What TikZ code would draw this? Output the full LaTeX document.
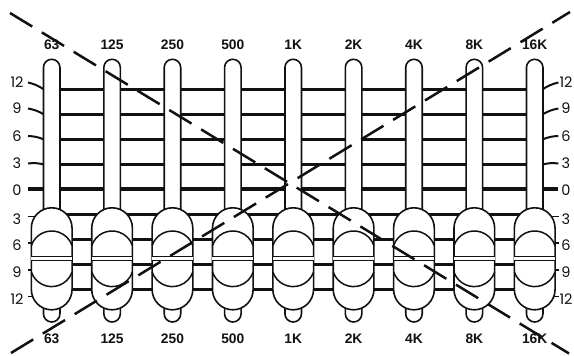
\documentclass[tikz,border=0pt]{standalone}
\usepackage{fontspec}
\usepackage{tikz}
\usetikzlibrary{calc}
\setmainfont{Liberation Sans}
\newfontfamily\dbfont{Poppins}
\definecolor{ink}{HTML}{111111}

\begin{document}
\begin{tikzpicture}[x=1pt,y=1pt,line join=round,
  gridline/.style={ink,line width=2.6pt},
  zeroline/.style={ink,line width=4pt},
  slotbox/.style={draw=ink,fill=white,line width=1.6pt,rounded corners=8.2pt},
  knobbox/.style={draw=ink,fill=white,line width=1.6pt,rounded corners=20.3pt},
  freq/.style={font=\bfseries\fontsize{13.8}{15}\selectfont,text=ink,inner sep=0pt},
  dbmark/.style={font=\dbfont\fontsize{14.5}{16}\selectfont,text=ink,inner sep=0pt},
  cross/.style={ink,line width=2.5pt,dash pattern=on 26pt off 11.3pt}]
  \fill[white] (0,0) rectangle (574,356);
  \useasboundingbox (0,0) rectangle (574,356);
  % scale lines
  \foreach \k in {0,...,8}
    \draw[gridline] (43,{266.5-25*\k}) -- (543,{266.5-25*\k});
  \draw[zeroline] (28,166.5) -- (558,166.5);
  \foreach \v/\ya/\yb in {12/273.5/266.5, 9/247.5/241.5, 6/220/216.5, 3/192.5/191.5} {
    \draw[gridline,line width=2pt] (28,\ya) to[bend left=10] (44,\yb);
    \draw[gridline,line width=2pt] (558.4,\ya) to[bend right=10] (542.4,\yb);
    \node[dbmark] at (17,\ya) {\v};
    \node[dbmark] at (566,\ya) {\v};
  }
  \node[dbmark] at (17,165.5) {0};
  \node[dbmark] at (566,165.5) {0};
  \foreach \v/\ya/\xb in {3/139.3/34.9, 6/113/31.4, 9/86/31.4, 12/59.3/32.7} {
    \draw[ink,line width=1.6pt] (27.5,\ya) -- (\xb,\ya);
    \draw[ink,line width=1.6pt] (558.9,\ya) -- ({586.4-\xb},\ya);
    \node[dbmark] at (17,\ya-2.5) {\v};
    \node[dbmark] at (566,\ya-2.5) {\v};
  }
  % faders
  \foreach \f [count=\i from 0] in {63,125,250,500,1K,2K,4K,8K,16K} {
    \pgfmathsetmacro\cx{51.7+60.375*\i}
    \draw[slotbox] (\cx-8.25,34) rectangle (\cx+8.25,296.7);
    \draw[knobbox] (\cx-20.35,46.2) rectangle (\cx+20.35,148.2);
    \draw[ink,line width=1.5pt] (\cx-20.35,110.44) arc[start angle=161.2,end angle=18.8,radius=21.5];
    \draw[ink,line width=1.5pt] (\cx-20.35,83.96) arc[start angle=198.8,end angle=341.2,radius=21.5];
    \draw[ink,double=white,double distance=2.6pt,line width=1pt] (\cx-20.35,97.2) -- (\cx+20.35,97.2);
    \node[freq] at (\cx,311.5) {\f};
    \node[freq] at (\cx,17) {\f};
  }
  % crossed out
  \coordinate (tl) at (10,343);
  \coordinate (br) at (569,2.5);
  \coordinate (bl) at (11,3);
  \coordinate (tr) at (570,344);
  \draw[cross] (tl) -- (br);
  \draw[cross] (bl) -- (tr);
\end{tikzpicture}
\end{document}
